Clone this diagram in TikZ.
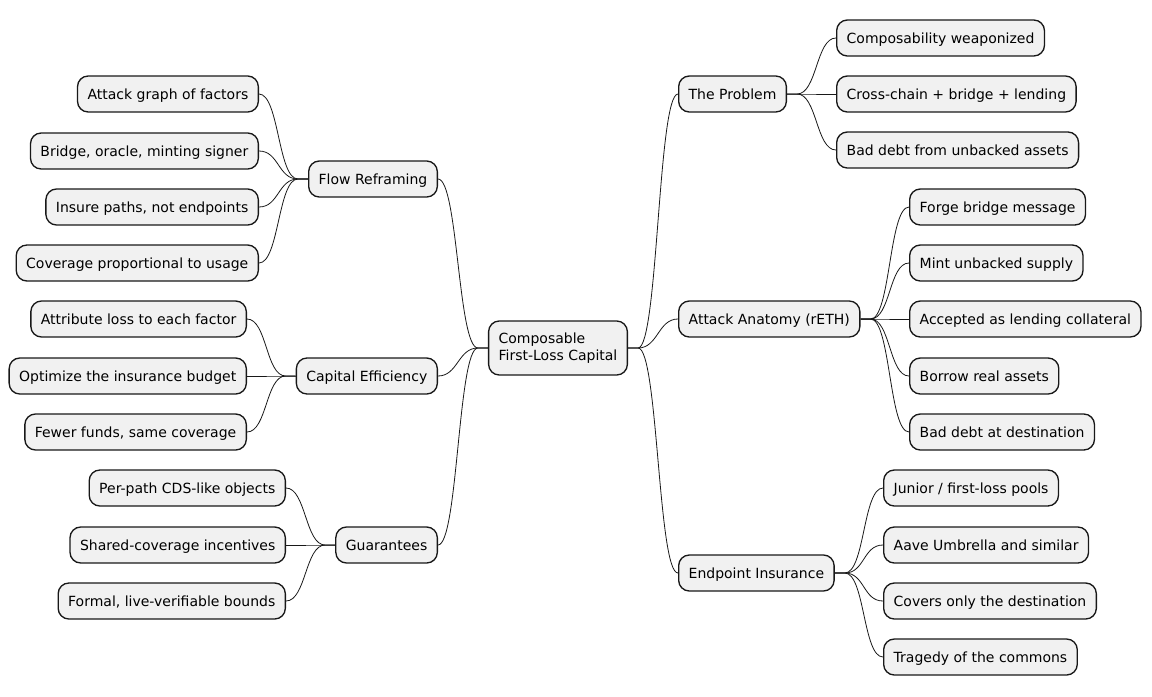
\documentclass[tikz,border=0pt]{standalone}
\usepackage{fontspec}
\setmainfont{DejaVu Sans}

\definecolor{boxfill}{HTML}{F1F1F1}
\definecolor{ink}{HTML}{181818}

\tikzset{
  topic/.style={rectangle, rounded corners=8pt, draw=ink, line width=1pt,
    fill=boxfill, text=black, font=\fontsize{10.5}{13}\selectfont,
    inner xsep=7.5pt, minimum height=27pt, text height=9.2pt, text depth=1.2pt},
  rbranch/.style={to path={-- ++(10,0) .. controls +(20,0) and +(-20,0) .. (\tikztotarget)}},
  lbranch/.style={to path={-- ++(-10,0) .. controls +(-20,0) and +(20,0) .. (\tikztotarget)}},
  link/.style={draw=ink, line width=0.6pt},
}

\begin{document}
\begin{tikzpicture}[x=0.75pt, y=-0.75pt]
  \useasboundingbox (0,0) rectangle (1152,696);

  % centre
  \node[topic, align=left, text height=, text depth=, minimum height=40.5pt]
    (root) at (558,348) {Composable\\First-Loss Capital};

  % right side
  \node[topic, anchor=west] (problem) at (678,94) {The Problem};
  \node[topic, anchor=west] (anatomy) at (678,319) {Attack Anatomy (rETH)};
  \node[topic, anchor=west] (endpoint) at (678,573) {Endpoint Insurance};
  \foreach \b in {problem, anatomy, endpoint}
    \draw[link] (root.east) to[rbranch] (\b.west);

  \foreach \n/\y/\t in {1/38/Composability weaponized,
                        2/94/Cross-chain + bridge + lending,
                        3/150/Bad debt from unbacked assets} {
    \node[topic, anchor=west] (problem\n) at (836,\y) {\t};
    \draw[link] (problem.east) to[rbranch] (problem\n.west);
  }
  \foreach \n/\y/\t in {1/207/Forge bridge message,
                        2/263/Mint unbacked supply,
                        3/319/Accepted as lending collateral,
                        4/376/Borrow real assets,
                        5/432/Bad debt at destination} {
    \node[topic, anchor=west] (anatomy\n) at (909,\y) {\t};
    \draw[link] (anatomy.east) to[rbranch] (anatomy\n.west);
  }
  \foreach \n/\y/\t in {1/488/{Junior / first-loss pools},
                        2/545/Aave Umbrella and similar,
                        3/601/Covers only the destination,
                        4/657/Tragedy of the commons} {
    \node[topic, anchor=west] (endpoint\n) at (883,\y) {\t};
    \draw[link] (endpoint.east) to[rbranch] (endpoint\n.west);
  }

  % left side
  \node[topic, anchor=east] (flow) at (438,179) {Flow Reframing};
  \node[topic, anchor=east] (capital) at (438,376) {Capital Efficiency};
  \node[topic, anchor=east] (guarantee) at (438,545) {Guarantees};
  \foreach \b in {flow, capital, guarantee}
    \draw[link] (root.west) to[lbranch] (\b.east);

  \foreach \n/\y/\t in {1/94/Attack graph of factors,
                        2/151/{Bridge, oracle, minting signer},
                        3/207/{Insure paths, not endpoints},
                        4/263/Coverage proportional to usage} {
    \node[topic, anchor=east] (flow\n) at (259,\y) {\t};
    \draw[link] (flow.west) to[lbranch] (flow\n.east);
  }
  \foreach \n/\y/\t in {1/319/Attribute loss to each factor,
                        2/376/Optimize the insurance budget,
                        3/432/{Fewer funds, same coverage}} {
    \node[topic, anchor=east] (capital\n) at (247,\y) {\t};
    \draw[link] (capital.west) to[lbranch] (capital\n.east);
  }
  \foreach \n/\y/\t in {1/488/Per-path CDS-like objects,
                        2/545/Shared-coverage incentives,
                        3/601/{Formal, live-verifiable bounds}} {
    \node[topic, anchor=east] (guarantee\n) at (286,\y) {\t};
    \draw[link] (guarantee.west) to[lbranch] (guarantee\n.east);
  }
\end{tikzpicture}
\end{document}
